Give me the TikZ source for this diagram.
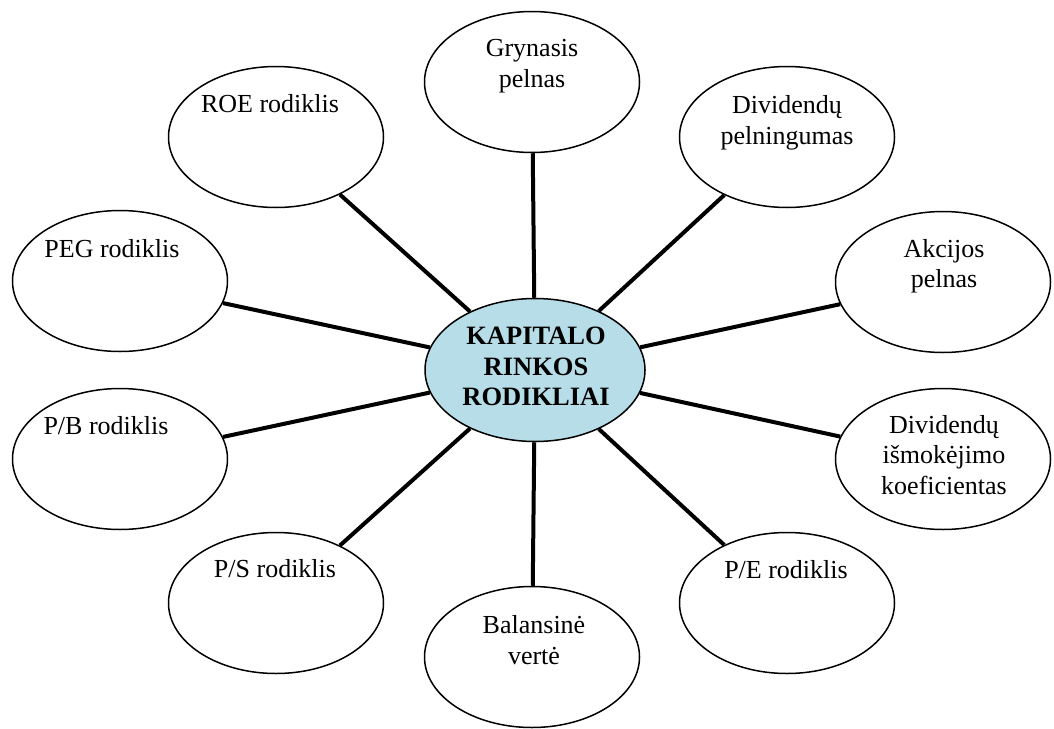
\documentclass[tikz,border=0pt]{standalone}
\usepackage{fontspec}
\setmainfont{Liberation Serif}
\usetikzlibrary{shapes.geometric}
\definecolor{hubfill}{HTML}{B7DEE8}
\tikzset{
  outer/.style={ellipse, draw, line width=1.5pt, minimum width=215pt, minimum height=141pt, inner sep=0pt, fill=white},
  hub/.style={ellipse, draw, line width=1.5pt, minimum width=220pt, minimum height=143pt, inner sep=0pt, fill=hubfill},
  lab/.style={font=\fontsize{26}{30.5}\selectfont, align=center, inner sep=0pt},
  hublab/.style={font=\fontsize{26.5}{30.5}\selectfont\bfseries, align=center, inner sep=0pt},
  conn/.style={line width=4pt}
}
\begin{document}
\begin{tikzpicture}[x=1pt,y=-1pt]
\useasboundingbox (0,0) rectangle (1054,728);
\node[hub, label={[hublab, shift={(1,-3.5)}]center:{KAPITALO\\RINKOS\\RODIKLIAI}}] (c) at (535,370) {};
\node[outer, label={[lab, shift={(0,-16)}]center:{Grynasis\\pelnas}}] (gry) at (532,82) {};
\node[outer, label={[lab, shift={(0,-14)}]center:{Dividendų\\pelningumas}}] (divp) at (787,137) {};
\node[outer, label={[lab, shift={(1,-16)}]center:{Akcijos\\pelnas}}] (akc) at (943,282) {};
\node[outer, label={[lab, shift={(1,-4)}]center:{Dividendų\\išmokėjimo\\koeficientas}}] (divi) at (943,459) {};
\node[outer, label={[lab, shift={(-1,-33.5)}]center:{P/E rodiklis}}] (pe) at (787,603) {};
\node[outer, label={[lab, shift={(2,-17)}]center:{Balansinė\\vertė}}] (bal) at (532,657) {};
\node[outer, label={[lab, shift={(-1,-34)}]center:{P/S rodiklis}}] (ps) at (276,603) {};
\node[outer, label={[lab, shift={(-14,-33.5)}]center:{P/B rodiklis}}] (pb) at (120,459) {};
\node[outer, label={[lab, shift={(-8,-32.5)}]center:{PEG rodiklis}}] (peg) at (120,281) {};
\node[outer, label={[lab, shift={(-6,-33.5)}]center:{ROE rodiklis}}] (roe) at (276,137) {};
\foreach \n in {gry,divp,akc,divi,pe,bal,ps,pb,peg,roe}
  \draw[conn] (\n) -- (c);
\end{tikzpicture}
\end{document}
